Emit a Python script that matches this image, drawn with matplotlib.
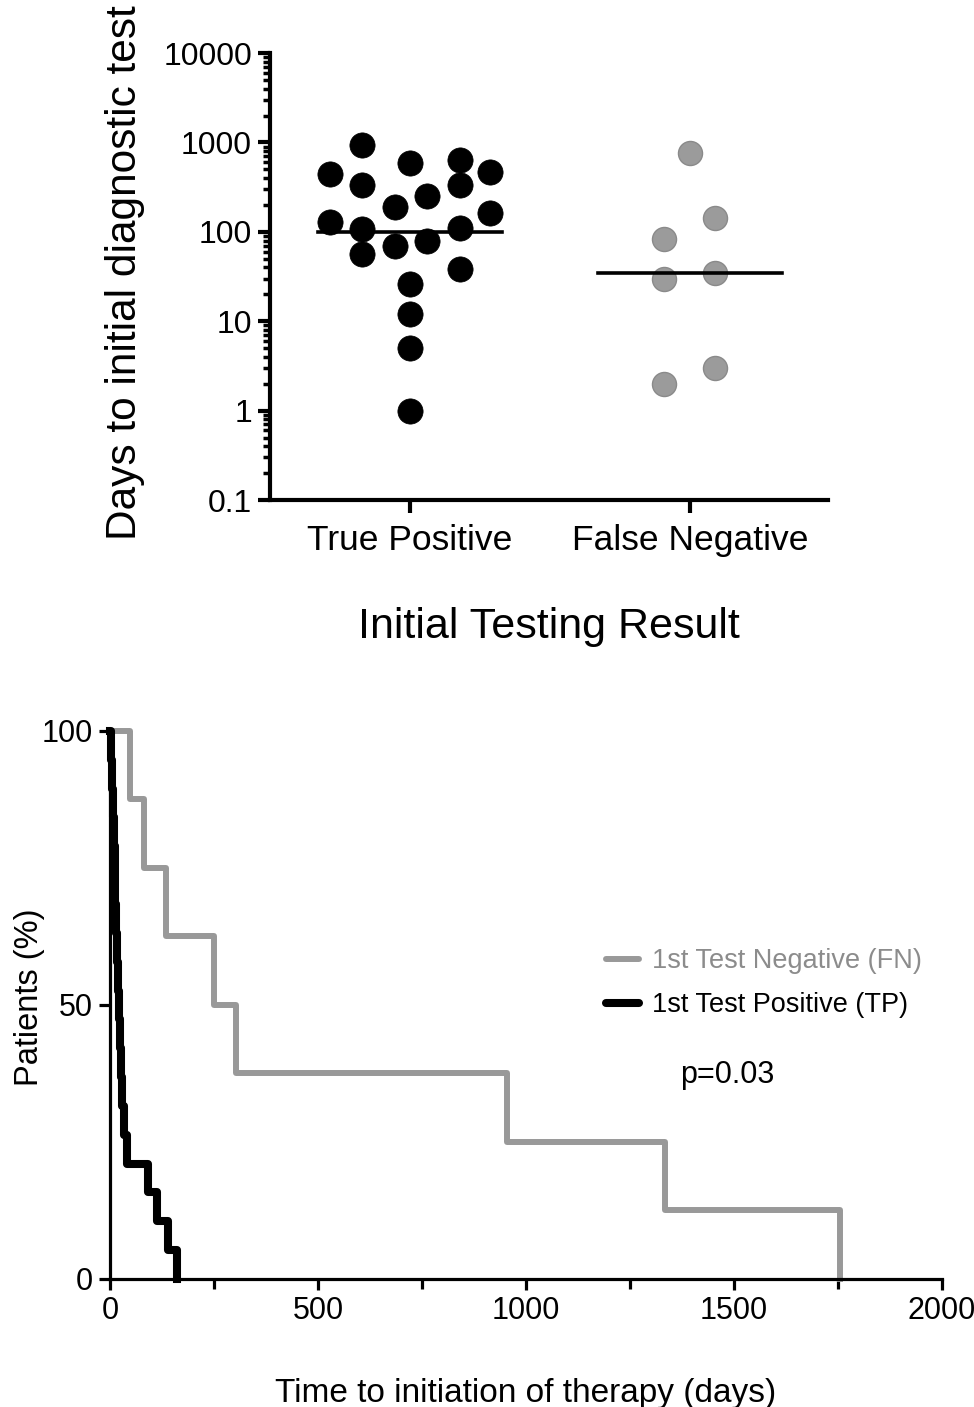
import numpy as np
import matplotlib
matplotlib.use("Agg")
import matplotlib.pyplot as plt
from matplotlib.ticker import LogLocator, NullFormatter, MultipleLocator

plt.rcParams["font.family"] = ["Liberation Sans", "DejaVu Sans"]

# ---- data: panel A (days to initial diagnostic test)
categories = ["True Positive", "False Negative"]
tp_days = [446, 130, 942, 330, 108, 57, 192, 70, 587, 26, 12, 5, 1,
           249, 78, 640, 330, 110, 38, 465, 162]
tp_jitter = [-0.286, -0.286, -0.171, -0.171, -0.171, -0.171, -0.054, -0.054,
             0, 0, 0, 0, 0, 0.061, 0.061, 0.179, 0.179, 0.179, 0.179, 0.286, 0.286]
fn_days = [766, 143, 83.5, 30, 35, 2.0, 3.0]
fn_jitter = [0, 0.091, -0.091, -0.091, 0.091, -0.091, 0.091]
tp_median = 100
fn_median = 34.8
y_ticks = [0.1, 1, 10, 100, 1000, 10000]
y_tick_labels = ["0.1", "1", "10", "100", "1000", "10000"]

# ---- data: panel B (time to initiation of therapy)
fn_times = [48, 82, 134, 251, 303, 954, 1334, 1755]
tp_times = [3, 5, 7, 9, 11, 13, 15, 17, 19, 21, 23, 26,
            30, 33, 40, 92, 114, 140, 162]


def km_curve(times):
    t = np.sort(np.asarray(times, dtype=float))
    n = len(t)
    xs = np.concatenate([[0], t])
    ys = 100.0 * np.concatenate([[n], n - np.arange(1, n + 1)]) / n
    return xs, ys


fig = plt.figure(figsize=(9.74, 14.07), dpi=100)

# ---------------- top panel
ax1 = fig.add_axes([0.2772, 0.6446, 0.5729, 0.3177])
ax1.set_yscale("log")
ax1.set_ylim(0.1, 10000)
ax1.set_xlim(-0.5, 1.493)

ax1.scatter(np.array(tp_jitter) + 0, tp_days, s=330, color="black",
            edgecolor="black", linewidth=0.5, zorder=3, clip_on=False)
ax1.scatter(np.array(fn_jitter) + 1, fn_days, s=300, color="#9b9b9b",
            edgecolor="#8a8a8a", linewidth=1, zorder=3, clip_on=False)
ax1.plot([-0.33, 0.33], [tp_median, tp_median], color="black", lw=2.6, zorder=4)
ax1.plot([1 - 0.33, 1 + 0.33], [fn_median, fn_median], color="black", lw=2.6, zorder=4)

for s in ["top", "right"]:
    ax1.spines[s].set_visible(False)
for s in ["left", "bottom"]:
    ax1.spines[s].set_linewidth(3)

ax1.set_yticks(y_ticks)
ax1.set_yticklabels(y_tick_labels)
ax1.yaxis.set_minor_locator(LogLocator(base=10, subs=np.arange(2, 10), numticks=100))
ax1.yaxis.set_minor_formatter(NullFormatter())
ax1.set_xticks([0, 1])
ax1.set_xticklabels(categories)
ax1.tick_params(axis="y", which="major", length=9, width=3, labelsize=23, pad=4)
ax1.tick_params(axis="y", which="minor", length=5, width=2.5)
ax1.tick_params(axis="x", which="major", length=9, width=3, labelsize=25.5, pad=8)
ax1.tick_params(axis="x", which="minor", bottom=False)
ax1.set_xlabel("Initial Testing Result", fontsize=31, labelpad=36)
fig.text(125 / 974, 1 - 273 / 1407, "Days to initial diagnostic test",
         rotation=90, ha="center", va="center", fontsize=30.5)

# ---------------- bottom panel
ax2 = fig.add_axes([0.1129, 0.0910, 0.8542, 0.3895])
fx, fy = km_curve(fn_times)
tx, ty = km_curve(tp_times)
ax2.step(fx, fy, where="post", color="#999999", lw=4.3,
         label="1st Test Negative (FN)", clip_on=False, zorder=2)
ax2.step(tx, ty, where="post", color="black", lw=5.8,
         label="1st Test Positive (TP)", clip_on=False, zorder=3)
ax2.set_xlim(0, 2000)
ax2.set_ylim(0, 100)

for s in ["top", "right"]:
    ax2.spines[s].set_visible(False)
for s in ["left", "bottom"]:
    ax2.spines[s].set_linewidth(2.3)

ax2.set_yticks([0, 50, 100])
ax2.xaxis.set_major_locator(MultipleLocator(500))
ax2.set_xticks(np.arange(250, 2000, 500), minor=True)
ax2.tick_params(axis="both", which="major", length=8, width=2.3, labelsize=22, pad=4)
ax2.tick_params(axis="x", which="minor", length=7, width=2.3)

ax2.set_xlabel("Time to initiation of therapy (days)", fontsize=24, labelpad=38)
fig.text(30 / 974, 1 - 997 / 1407, "Patients (%)", rotation=90,
         ha="center", va="center", fontsize=23.5)

leg = ax2.legend(loc="upper left", bbox_to_anchor=(582 / 974, 1 - 924 / 1407),
                 bbox_transform=fig.transFigure, frameon=False,
                 handlelength=1.2, handletextpad=0.5, labelspacing=0.65,
                 prop={"size": 19.5})
for line, text in zip(leg.get_lines(), leg.get_texts()):
    text.set_color("#8c8c8c" if line.get_color() == "#999999" else "black")
    line.set_solid_capstyle("round")

ax2.text((680 - 110) / 832, (1279 - 1075) / 548, "p=0.03", transform=ax2.transAxes,
         ha="left", va="center", fontsize=22)

fig.savefig("out.png", dpi=100)
